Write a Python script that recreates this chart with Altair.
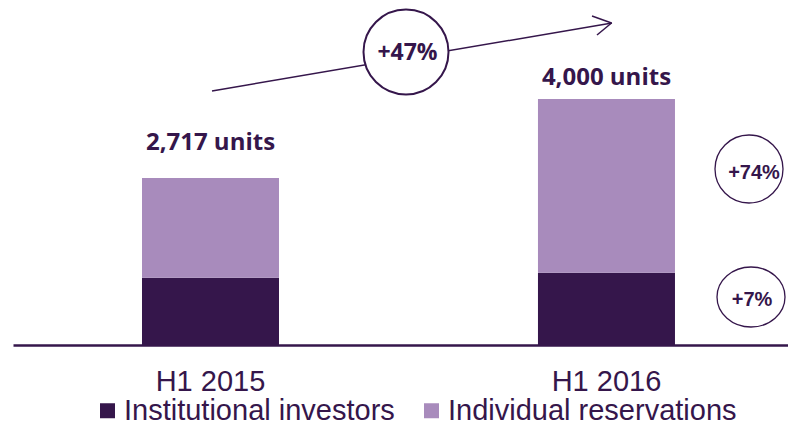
import altair as alt
import pandas as pd

periods = ["H1 2015", "H1 2016"]
segments = ["Institutional investors", "Individual reservations"]
institutional = [1094, 1176]
individual = [1623, 2824]
totals = [2717, 4000]
total_labels = ["2,717 units", "4,000 units"]
growth_total = ["+47%"]
growth_individual = ["+74%"]
growth_institutional = ["+7%"]

DARK = "#35164B"
LIGHT = "#A88BBC"

rows = []
for p, a, b in zip(periods, institutional, individual):
    rows.append({"period": p, "segment": segments[0], "units": a, "rank": 0})
    rows.append({"period": p, "segment": segments[1], "units": b, "rank": 1})
bars_df = pd.DataFrame(rows)
tot_df = pd.DataFrame({"period": periods, "units": totals, "label": total_labels})

xscale = alt.Scale(domain=periods, paddingInner=0.654, paddingOuter=0.3056, align=0.533)
yscale = alt.Scale(domain=[0, 5480], nice=False, zero=True)

x = alt.X("period:N", scale=xscale, sort=periods,
          axis=alt.Axis(title=None, labelAngle=0, ticks=False, tickSize=0,
                        labelPadding=45, labelBaseline="alphabetic",
                        labelFont="Liberation Sans", labelFontSize=29,
                        labelColor=DARK, domainColor=DARK, domainWidth=2.5,
                        grid=False))

bars = alt.Chart(bars_df).mark_bar(opacity=1).encode(
    x=x,
    y=alt.Y("units:Q", stack="zero", scale=yscale, axis=None),
    color=alt.Color("segment:N", scale=alt.Scale(domain=segments, range=[DARK, LIGHT]),
                    legend=alt.Legend(orient="none", legendX=80, legendY=388,
                                      direction="horizontal", title=None,
                                      symbolType="square", symbolSize=225,
                                      symbolStrokeWidth=0, symbolOpacity=1,
                                      labelFont="Liberation Sans", labelFontSize=29,
                                      labelColor=DARK, labelLimit=600, labelOffset=2,
                                      columnPadding=22, padding=0)),
    order=alt.Order("rank:Q", sort="ascending"),
)

def total_text(period, dy):
    return alt.Chart(tot_df).transform_filter(
        alt.datum.period == period
    ).mark_text(font="Open Sans", fontWeight="bold", fontSize=24, color=DARK,
                baseline="alphabetic", align="center", dy=dy).encode(
        x=alt.X("period:N", scale=xscale, sort=periods),
        y=alt.Y("units:Q", scale=yscale),
        text="label:N",
    )

t2015 = total_text(periods[0], -28)
t2016 = total_text(periods[1], -14)

one = pd.DataFrame({"k": [0]})

arrow_line = alt.Chart(one).mark_rule(color=DARK, strokeWidth=1.5).encode(
    x=alt.value(199), y=alt.value(83), x2=alt.value(599), y2=alt.value(15))
head1 = alt.Chart(one).mark_rule(color=DARK, strokeWidth=1.5).encode(
    x=alt.value(579), y=alt.value(8), x2=alt.value(598.5), y2=alt.value(15))
head2 = alt.Chart(one).mark_rule(color=DARK, strokeWidth=1.5).encode(
    x=alt.value(584), y=alt.value(27), x2=alt.value(598.5), y2=alt.value(15))

circle47 = alt.Chart(one).mark_point(shape="circle", filled=True, fill="white",
                                     stroke=DARK, strokeWidth=2, opacity=1,
                                     fillOpacity=1, size=7225).encode(
    x=alt.value(393), y=alt.value(44))
text47 = alt.Chart(pd.DataFrame({"g": growth_total})).mark_text(
    font="Open Sans", fontWeight="bold", fontSize=23, color=DARK,
    baseline="middle", align="center").encode(
    x=alt.value(394.5), y=alt.value(45), text="g:N")

circle74 = alt.Chart(one).mark_point(shape="circle", filled=False,
                                     stroke=DARK, strokeWidth=1.3, opacity=1,
                                     size=4624).encode(
    x=alt.value(736), y=alt.value(161))
text74 = alt.Chart(pd.DataFrame({"g": growth_individual})).mark_text(
    font="Liberation Sans", fontWeight="bold", fontSize=20, color=DARK,
    baseline="middle", align="center").encode(
    x=alt.value(741), y=alt.value(165), text="g:N")

k = 30 / 34
c = 0.5523
ellipse = (f"M1,0 C1,{k*c:.4f} {c},{k:.4f} 0,{k:.4f} "
           f"C-{c},{k:.4f} -1,{k*c:.4f} -1,0 "
           f"C-1,-{k*c:.4f} -{c},-{k:.4f} 0,-{k:.4f} "
           f"C{c},-{k:.4f} 1,-{k*c:.4f} 1,0 Z")
circle7 = alt.Chart(one).mark_point(shape=ellipse, filled=False,
                                    stroke=DARK, strokeWidth=1.3, opacity=1,
                                    size=4624).encode(
    x=alt.value(738), y=alt.value(289))
text7 = alt.Chart(pd.DataFrame({"g": growth_institutional})).mark_text(
    font="Liberation Sans", fontWeight="bold", fontSize=20, color=DARK,
    baseline="middle", align="center").encode(
    x=alt.value(739), y=alt.value(292), text="g:N")

chart = alt.layer(
    bars, t2015, t2016, arrow_line, head1, head2,
    circle47, text47, circle74, text74, circle7, text7,
).properties(
    width=775, height=337,
    padding={"left": 5, "top": 0, "right": 0, "bottom": 76},
    autosize=alt.AutoSizeParams(type="none"),
    background="white",
).configure_view(stroke=None)

chart.save("out.html", embed_options={"renderer": "svg", "actions": False})
